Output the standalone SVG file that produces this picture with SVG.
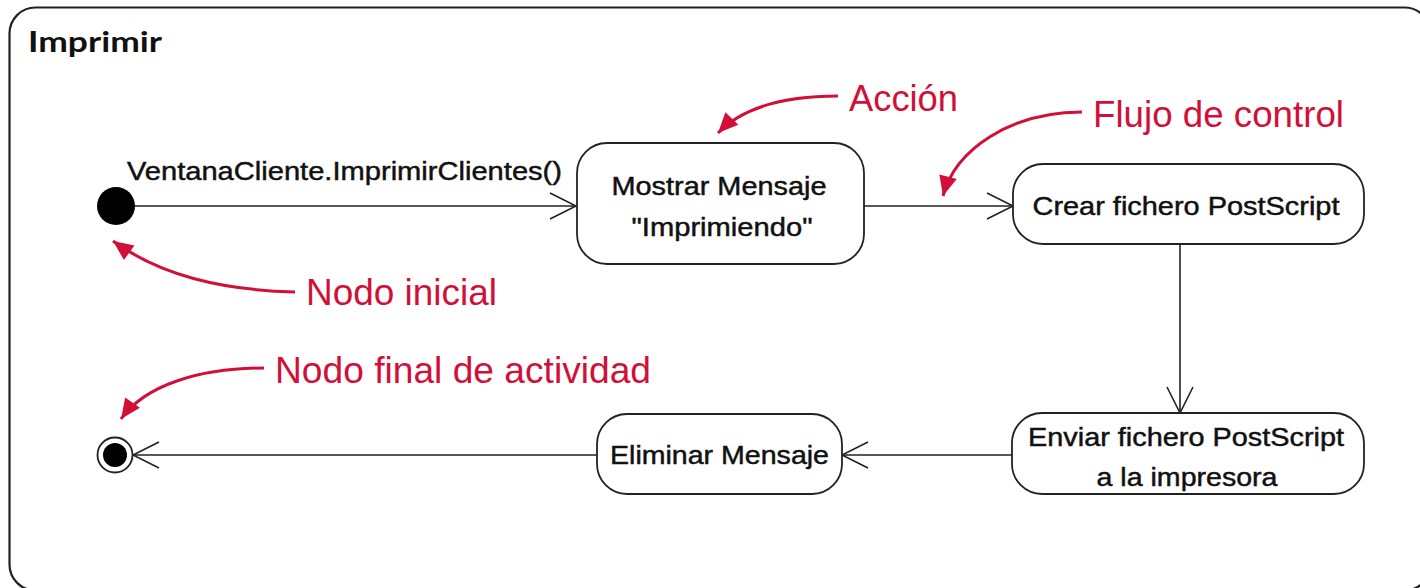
<svg xmlns="http://www.w3.org/2000/svg" width="1420" height="588" viewBox="0 0 1420 588">
<style>
.frame{fill:#fff;stroke:#222;stroke-width:2.2}
.node{fill:#fff;stroke:#222;stroke-width:1.8}
.lbl{font-family:"Liberation Sans",Arial,sans-serif;font-size:25px;fill:#111;stroke:#111;stroke-width:0.45}
.edge{fill:none;stroke:#222;stroke-width:1.6}
.note{fill:none;stroke:#d20f38;stroke-width:3}
.ntxt{font-family:"Liberation Sans",Arial,sans-serif;font-size:36.5px;fill:#d20f38}
</style>
<defs>
<marker id="open" markerUnits="userSpaceOnUse" viewBox="-30 -16 32 32" markerWidth="32" markerHeight="32" refX="0" refY="0" orient="auto">
<path d="M-26,-13 L0,0 L-26,13" fill="none" stroke="#222" stroke-width="1.6"/>
</marker>
<marker id="red" markerUnits="userSpaceOnUse" viewBox="-22 -12 24 24" markerWidth="24" markerHeight="24" refX="0" refY="0" orient="auto">
<path d="M-20,-9 L0,0 L-20,9 Z" fill="#d20f38"/>
</marker>
</defs>
<g id="frame">
<rect class="frame" x="9.5" y="7.5" width="1421" height="583" rx="26"/>
<text x="28" y="52" font-family="Lato,'Liberation Sans',sans-serif" font-weight="bold" font-size="29" fill="#111" textLength="134" lengthAdjust="spacingAndGlyphs">Imprimir</text>
</g>
<g id="connectors">
<line class="edge" x1="135" y1="206" x2="576" y2="206" marker-end="url(#open)"/>
<text class="lbl" x="127" y="180" font-size="22" stroke-width="0.35" textLength="435" lengthAdjust="spacingAndGlyphs">VentanaCliente.ImprimirClientes()</text>
<line class="edge" x1="864" y1="206" x2="1013" y2="206" marker-end="url(#open)"/>
<line class="edge" x1="1180" y1="244" x2="1180" y2="413" marker-end="url(#open)"/>
<line class="edge" x1="1012" y1="455" x2="842" y2="455" marker-end="url(#open)"/>
<line class="edge" x1="597" y1="455" x2="133" y2="455" marker-end="url(#open)"/>
</g>
<g id="initial">
<circle cx="116" cy="206" r="19" fill="#000"/>
</g>
<g id="mostrar">
<rect class="node" x="577" y="143" width="287" height="121" rx="30"/>
<text class="lbl" x="719" y="195" text-anchor="middle" textLength="215" lengthAdjust="spacingAndGlyphs">Mostrar Mensaje</text>
<text class="lbl" x="722" y="236" text-anchor="middle" textLength="181" lengthAdjust="spacingAndGlyphs">"Imprimiendo"</text>
</g>
<g id="crear">
<rect class="node" x="1013" y="164" width="351" height="80" rx="30"/>
<text class="lbl" x="1186" y="215" text-anchor="middle" textLength="307" lengthAdjust="spacingAndGlyphs">Crear fichero PostScript</text>
</g>
<g id="enviar">
<rect class="node" x="1012" y="413" width="352" height="81" rx="30"/>
<text class="lbl" x="1186" y="446" text-anchor="middle" textLength="316" lengthAdjust="spacingAndGlyphs">Enviar fichero PostScript</text>
<text class="lbl" x="1187" y="486" text-anchor="middle" textLength="181" lengthAdjust="spacingAndGlyphs">a la impresora</text>
</g>
<g id="eliminar">
<rect class="node" x="597" y="414" width="245" height="80" rx="30"/>
<text class="lbl" x="719.5" y="464" text-anchor="middle" textLength="219" lengthAdjust="spacingAndGlyphs">Eliminar Mensaje</text>
</g>
<g id="final">
<circle cx="115" cy="455" r="17.5" fill="#fff" stroke="#222" stroke-width="1.8"/>
<circle cx="115" cy="455" r="12" fill="#000"/>
</g>
<g id="annotations">
<path class="note" d="M838,96 C790,96 745,105 718,133" marker-end="url(#red)"/>
<text class="ntxt" x="849" y="111" textLength="109" lengthAdjust="spacingAndGlyphs">Acción</text>
<path class="note" d="M1082,112 C1010,112 955,150 943,196" marker-end="url(#red)"/>
<text class="ntxt" x="1093" y="127" textLength="251" lengthAdjust="spacingAndGlyphs">Flujo de control</text>
<path class="note" d="M295,292 C220,290 160,275 113,241" marker-end="url(#red)"/>
<text class="ntxt" x="306" y="305" textLength="191" lengthAdjust="spacingAndGlyphs">Nodo inicial</text>
<path class="note" d="M264,368 C200,368 145,385 121,419" marker-end="url(#red)"/>
<text class="ntxt" x="275" y="383" textLength="376" lengthAdjust="spacingAndGlyphs">Nodo final de actividad</text>
</g>
</svg>
